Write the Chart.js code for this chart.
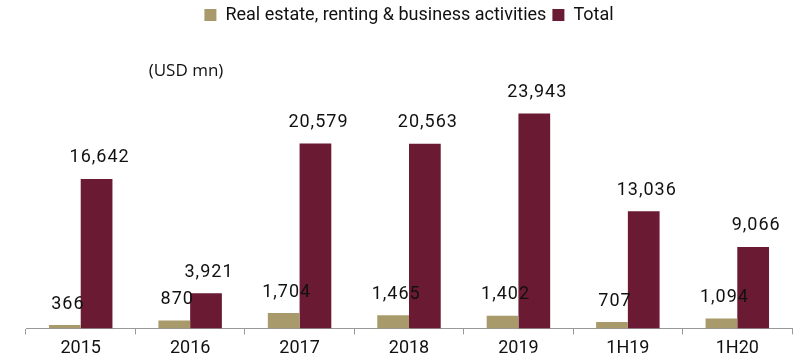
<!DOCTYPE html>
<html>
<head>
<meta charset="utf-8">
<script src="https://cdn.jsdelivr.net/npm/chart.js@4"></script>
<style>
  html, body { margin: 0; padding: 0; background: #fff; }
  #wrap { width: 800px; height: 364px; }
</style>
</head>
<body>
<div id="wrap"><canvas id="fdichart"></canvas></div>
<script>
const categories = ['2015', '2016', '2017', '2018', '2019', '1H19', '1H20'];
const realEstate = [366, 870, 1704, 1465, 1402, 707, 1094];
const total = [16642, 3921, 20579, 20563, 23943, 13036, 9066];

const FONT = 'Roboto, "DejaVu Sans", sans-serif';

// draws the value above each bar and the unit note
const barLabels = {
  id: 'barLabels',
  afterDatasetsDraw(chart) {
    const ctx = chart.ctx;
    ctx.save();
    ctx.font = '18px ' + FONT;
    ctx.letterSpacing = '1px';
    ctx.fillStyle = '#111';
    ctx.textAlign = 'center';
    ctx.textBaseline = 'middle';
    chart.data.datasets.forEach((ds, i) => {
      chart.getDatasetMeta(i).data.forEach((bar, j) => {
        ctx.fillText(ds.data[j].toLocaleString('en-US'), bar.x + 3, bar.y - 21);
      });
    });
    ctx.letterSpacing = '0px';
    ctx.font = '17px "Open Sans", sans-serif';
    ctx.fillText('(USD mn)', 186, 71);
    ctx.restore();
  }
};

const legendSpace = {
  id: 'legendSpace',
  beforeInit(chart) {
    const fit = chart.legend.fit;
    chart.legend.fit = function () {
      fit.bind(chart.legend)();
      this.height += 25;
    };
  }
};

new Chart(document.getElementById('fdichart'), {
  type: 'bar',
  plugins: [barLabels, legendSpace],
  data: {
    labels: categories,
    datasets: [
      {
        label: 'Real estate, renting & business activities',
        data: realEstate,
        backgroundColor: '#A89A6A',
        categoryPercentage: 0.58,
        barPercentage: 1.0,
      },
      {
        label: 'Total',
        data: total,
        backgroundColor: '#6B1A33',
        categoryPercentage: 0.58,
        barPercentage: 1.0,
      }
    ]
  },
  options: {
    responsive: true,
    maintainAspectRatio: false,
    animation: false,
    layout: {
      padding: { left: 26, right: 8, top: 0, bottom: 2 }
    },
    scales: {
      x: {
        grid: {
          display: true,
          drawOnChartArea: false,
          offset: true,
          tickLength: 6,
          color: '#999',
        },
        border: { color: '#999' },
        ticks: {
          color: '#111',
          padding: 3,
          font: { family: FONT, size: 18 },
        },
      },
      y: {
        display: false,
        min: 0,
        max: 30000,
      }
    },
    plugins: {
      legend: {
        position: 'top',
        labels: {
          boxWidth: 12,
          boxHeight: 12,
          padding: 6,
          color: '#111',
          font: { family: FONT, size: 18 },
        }
      },
      tooltip: { enabled: false },
    },
  },
});
</script>
</body>
</html>
